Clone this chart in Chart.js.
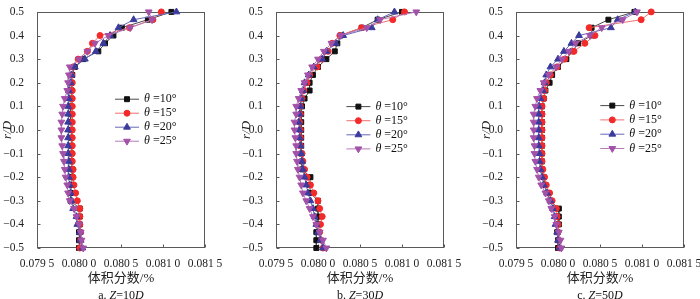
<!DOCTYPE html>
<html>
<head>
<meta charset="utf-8">
<script src="https://cdn.jsdelivr.net/npm/chart.js@4/dist/chart.umd.min.js"></script>
<style>
  html, body { margin: 0; padding: 0; background: #fff; overflow: hidden; }
  #wrap { position: relative; width: 700px; height: 299px; overflow: hidden; }
  canvas { position: absolute; top: 0; }
  .cap { position: absolute; top: 288px; width: 168px; text-align: center;
         font: 12px "Liberation Serif", serif; line-height: 14px; color: #111; }
</style>
</head>
<body>
<div id="wrap">
  <canvas id="chartA" width="225" height="290" style="left:0px"></canvas>
  <canvas id="chartB" width="225" height="290" style="left:239px"></canvas>
  <canvas id="chartC" width="225" height="290" style="left:479px"></canvas>
  <div class="cap" style="left:37px">a. <i>Z</i>=10<i>D</i></div>
  <div class="cap" style="left:276px">b. <i>Z</i>=30<i>D</i></div>
  <div class="cap" style="left:516px">c. <i>Z</i>=50<i>D</i></div>
</div>
<script>
// r/D positions, top of pipe to bottom
const rOverD = [0.5, 0.467, 0.433, 0.4, 0.367, 0.333, 0.3, 0.267, 0.233, 0.2,
  0.167, 0.133, 0.1, 0.067, 0.033, 0, -0.033, -0.067, -0.1, -0.133, -0.167, -0.2, -0.233, -0.267,
  -0.3, -0.333, -0.367, -0.4, -0.433, -0.467, -0.5]

const thetaValues = [10, 15, 20, 25]

// volume fraction (%), Z = 10D
const z10Theta10 = [0.08110, 0.08082, 0.08051, 0.08041, 0.08031, 0.08023, 0.08005, 0.07995, 0.07992, 0.07991,
  0.07991, 0.07991, 0.07990, 0.07990, 0.07990, 0.07991, 0.07991, 0.07991, 0.07991, 0.07991, 0.07992, 0.07992, 0.07991, 0.07990,
  0.07990, 0.08001, 0.08001, 0.08001, 0.08000, 0.08000, 0.08000]
const z10Theta15 = [0.08098, 0.08088, 0.08060, 0.08025, 0.08016, 0.08010, 0.07999, 0.07993, 0.07991, 0.07992,
  0.07992, 0.07992, 0.07992, 0.07992, 0.07992, 0.07992, 0.07992, 0.07992, 0.07992, 0.07992, 0.07993, 0.07993, 0.07994, 0.07996,
  0.07998, 0.08001, 0.08001, 0.08001, 0.08002, 0.08002, 0.08001]
const z10Theta20 = [0.08116, 0.08065, 0.08047, 0.08037, 0.08029, 0.08020, 0.08007, 0.07995, 0.07991, 0.07990,
  0.07988, 0.07988, 0.07987, 0.07987, 0.07987, 0.07987, 0.07987, 0.07987, 0.07987, 0.07988, 0.07988, 0.07988, 0.07989, 0.07990,
  0.07991, 0.07993, 0.07997, 0.07998, 0.08001, 0.08002, 0.08004]
const z10Theta25 = [0.08083, 0.08087, 0.08061, 0.08035, 0.08019, 0.08010, 0.08000, 0.07989, 0.07988, 0.07987,
  0.07986, 0.07983, 0.07981, 0.07980, 0.07979, 0.07979, 0.07979, 0.07980, 0.07981, 0.07982, 0.07983, 0.07984, 0.07986, 0.07987,
  0.07989, 0.07994, 0.07997, 0.08000, 0.08002, 0.08003, 0.08005]

// Z = 30D
const z30Theta10 = [0.08100, 0.08071, 0.08052, 0.08027, 0.08023, 0.08020, 0.08010, 0.08000, 0.07994, 0.07990,
  0.07990, 0.07984, 0.07981, 0.07980, 0.07980, 0.07980, 0.07980, 0.07980, 0.07980, 0.07981, 0.07981, 0.07991, 0.07990, 0.07991,
  0.08000, 0.08000, 0.08000, 0.08000, 0.07998, 0.07998, 0.07998]
const z30Theta15 = [0.08103, 0.08089, 0.08052, 0.08026, 0.08017, 0.08012, 0.08004, 0.07999, 0.07990, 0.07987,
  0.07983, 0.07981, 0.07979, 0.07979, 0.07978, 0.07979, 0.07979, 0.07979, 0.07981, 0.07982, 0.07984, 0.07987, 0.07991, 0.07995,
  0.08000, 0.08002, 0.08005, 0.08003, 0.08002, 0.08004, 0.08006]
const z30Theta20 = [0.08091, 0.08071, 0.08064, 0.08030, 0.08021, 0.08010, 0.08005, 0.07995, 0.07989, 0.07984,
  0.07982, 0.07980, 0.07979, 0.07978, 0.07977, 0.07978, 0.07978, 0.07979, 0.07980, 0.07981, 0.07982, 0.07984, 0.07986, 0.07988,
  0.07991, 0.07994, 0.07996, 0.07998, 0.08000, 0.08003, 0.08006]
const z30Theta25 = [0.08117, 0.08074, 0.08058, 0.08027, 0.08016, 0.08007, 0.08000, 0.07993, 0.07988, 0.07984,
  0.07980, 0.07977, 0.07974, 0.07974, 0.07972, 0.07972, 0.07973, 0.07974, 0.07974, 0.07975, 0.07976, 0.07978, 0.07980, 0.07982,
  0.07986, 0.07990, 0.07994, 0.07998, 0.08002, 0.08006, 0.08010]

// Z = 50D
const z50Theta10 = [0.08091, 0.08060, 0.08040, 0.08040, 0.08024, 0.08017, 0.08010, 0.08000, 0.07993, 0.07990,
  0.07985, 0.07983, 0.07981, 0.07981, 0.07981, 0.07981, 0.07981, 0.07981, 0.07981, 0.07981, 0.07981, 0.07983, 0.07984, 0.07987,
  0.07991, 0.08001, 0.08001, 0.08001, 0.07999, 0.08000, 0.08000]
const z50Theta15 = [0.08111, 0.08099, 0.08037, 0.08044, 0.08032, 0.08019, 0.08008, 0.07999, 0.07991, 0.07986,
  0.07984, 0.07983, 0.07981, 0.07981, 0.07981, 0.07981, 0.07981, 0.07981, 0.07981, 0.07981, 0.07982, 0.07984, 0.07986, 0.07990,
  0.07993, 0.07998, 0.07999, 0.08000, 0.08000, 0.08001, 0.08002]
const z50Theta20 = [0.08092, 0.08071, 0.08063, 0.08025, 0.08016, 0.08007, 0.08000, 0.07991, 0.07986, 0.07984,
  0.07982, 0.07979, 0.07977, 0.07977, 0.07977, 0.07977, 0.07977, 0.07977, 0.07978, 0.07978, 0.07979, 0.07981, 0.07983, 0.07987,
  0.07991, 0.07994, 0.07996, 0.07997, 0.07999, 0.08000, 0.08002]
const z50Theta25 = [0.08094, 0.08077, 0.08052, 0.08038, 0.08021, 0.08013, 0.08005, 0.07998, 0.07989, 0.07983,
  0.07979, 0.07975, 0.07973, 0.07971, 0.07971, 0.07971, 0.07971, 0.07972, 0.07972, 0.07973, 0.07975, 0.07977, 0.07980, 0.07985,
  0.07989, 0.07992, 0.07996, 0.07998, 0.08001, 0.08003, 0.08004]

const xTicksMin = 0.0795
const xTicksMax = 0.0815

const markColours = ['#111111', '#f42a2a', '#3b3b9e', '#a351a8']
const lineColours = ['#4a4a4a', '#f07070', '#6868b8', '#b67ab9']
const markStyles = ['rect', 'circle', 'triangle', 'triangle']
const markRotation = [0, 0, 0, 180]
const markRadius = [3.5, 3, 3.9, 3.9]

Chart.defaults.font.family = '"Liberation Serif", serif'
Chart.defaults.color = '#222'

// box round the plot and small inward ticks
const framePlugin = {
  id: 'frame',
  beforeDatasetsDraw(chart) {
    const ctx = chart.ctx
    const a = chart.chartArea
    const l = Math.round(a.left) + 0.5, t = Math.round(a.top) + 0.5
    const r = Math.round(a.right) - 0.5, b = Math.round(a.bottom) - 0.5
    ctx.save()
    ctx.strokeStyle = '#5a5a5a'
    ctx.lineWidth = 1
    ctx.strokeRect(l, t, r - l, b - t)
    ctx.beginPath()
    chart.scales.x.ticks.forEach(function (tk) {
      const px = Math.round(chart.scales.x.getPixelForValue(tk.value)) + 0.5
      ctx.moveTo(px, b); ctx.lineTo(px, b - 3)
    })
    chart.scales.y.ticks.forEach(function (tk) {
      const py = Math.round(chart.scales.y.getPixelForValue(tk.value)) + 0.5
      ctx.moveTo(l, py); ctx.lineTo(l + 3, py)
    })
    ctx.stroke()
    ctx.restore()
  }
}

// legend inside the plot: line, marker, italic theta
const thetaLegend = {
  id: 'thetaLegend',
  afterDraw(chart, args, opts) {
    const ctx = chart.ctx
    const a = chart.chartArea
    ctx.save()
    chart.data.datasets.forEach(function (ds, i) {
      const y = a.top + opts.y + i * opts.gap
      const x0 = a.left + opts.x
      ctx.strokeStyle = ds.borderColor
      ctx.lineWidth = 1
      ctx.beginPath()
      ctx.moveTo(x0, y)
      ctx.lineTo(x0 + 24, y)
      ctx.stroke()
      ctx.fillStyle = ds.pointBackgroundColor
      ctx.strokeStyle = ds.pointBorderColor
      Chart.helpers.drawPoint(ctx, {pointStyle: ds.pointStyle, rotation: ds.pointRotation, radius: ds.pointRadius, borderWidth: 1}, x0 + 12, y)
      ctx.fillStyle = '#111'
      ctx.textBaseline = 'middle'
      ctx.textAlign = 'left'
      ctx.font = 'italic 12px "Liberation Serif"'
      ctx.fillText('\u03b8', x0 + 29, y)
      const w = ctx.measureText('\u03b8').width + 3
      ctx.font = '12px "Liberation Serif"'
      ctx.fillText('=' + thetaValues[i] + '\u00b0', x0 + 29 + w, y)
    })
    ctx.restore()
  }
}

function makePanel(canvasId, series, legendPos) {
  const datasets = []
  for (let i = 0; i < series.length; i++) {
    const pts = []
    for (let j = 0; j < rOverD.length; j++) {
      pts.push({x: series[i][j], y: rOverD[j]})
    }
    datasets.push({
      label: '\u03b8=' + thetaValues[i] + '\u00b0',
      data: pts,
      showLine: true,
      borderColor: lineColours[i],
      borderWidth: 1,
      backgroundColor: markColours[i],
      pointBackgroundColor: markColours[i],
      pointBorderColor: markColours[i],
      pointBorderWidth: 1,
      pointStyle: markStyles[i],
      pointRotation: markRotation[i],
      pointRadius: markRadius[i],
      tension: 0,
      clip: false,
      order: series.length - i
    })
  }

  return new Chart(document.getElementById(canvasId).getContext('2d'), {
    type: 'scatter',
    data: {datasets: datasets},
    options: {
      responsive: false,
      animation: false,
      devicePixelRatio: 1,
      layout: {padding: {top: 7, right: 20, left: 0, bottom: 0}},
      plugins: {
        legend: {display: false},
        tooltip: {enabled: false},
        thetaLegend: legendPos
      },
      scales: {
        x: {
          type: 'linear',
          min: xTicksMin,
          max: xTicksMax,
          grid: {display: false},
          border: {display: false},
          ticks: {
            stepSize: 0.0005,
            maxRotation: 0,
            minRotation: 0,
            padding: 1,
            font: {size: 11.5},
            color: '#222',
            callback: function (v) {
              const s = v.toFixed(4)
              return s.slice(0, 5) + ' ' + s.slice(5)
            }
          },
          title: {
            display: true,
            text: '体积分数/%',
            font: {size: 13, family: '"Liberation Serif", "Noto Sans CJK SC", serif'},
            color: '#222',
            padding: {top: 0, bottom: 4}
          },
          afterFit: function (scale) { scale.height = 42 }
        },
        y: {
          type: 'linear',
          min: -0.5,
          max: 0.5,
          grid: {display: false},
          border: {display: false},
          ticks: {
            stepSize: 0.1,
            padding: 5,
            font: {size: 11.5},
            color: '#222',
            callback: function (v) {
              const s = Math.abs(v).toFixed(1)
              return v < -1e-9 ? '\u2212' + s : s
            }
          },
          title: {
            display: true,
            text: 'r/D',
            font: {size: 13, style: 'italic'},
            color: '#222',
            padding: {top: 0, bottom: 0}
          },
          afterFit: function (scale) { scale.width = 37 }
        }
      }
    },
    plugins: [framePlugin, thetaLegend]
  })
}

const chartA = makePanel('chartA', [z10Theta10, z10Theta15, z10Theta20, z10Theta25], {x: 78, y: 87.3, gap: 14})
const chartB = makePanel('chartB', [z30Theta10, z30Theta15, z30Theta20, z30Theta25], {x: 70.4, y: 94.7, gap: 14.1})
const chartC = makePanel('chartC', [z50Theta10, z50Theta15, z50Theta20, z50Theta25], {x: 84.3, y: 93.7, gap: 14.3})
</script>
</body>
</html>
